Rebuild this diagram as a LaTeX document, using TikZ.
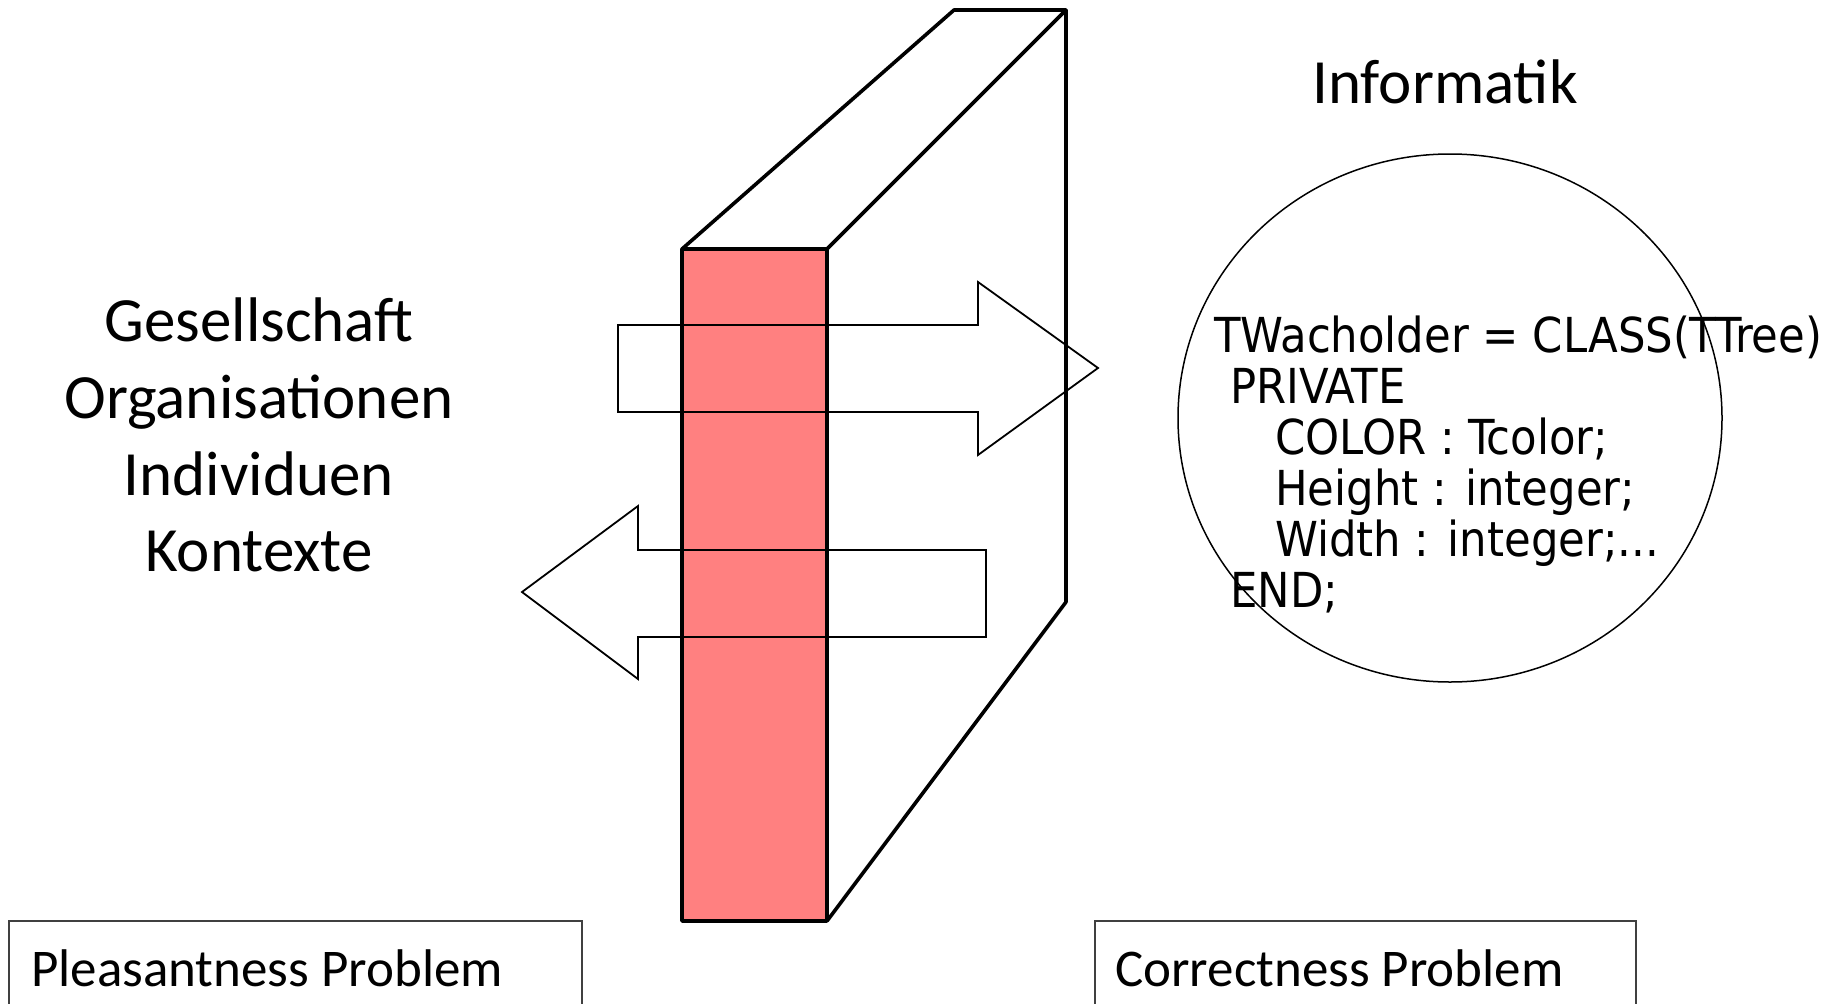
\documentclass[tikz,border=0pt]{standalone}
\usepackage{fontspec}
\setmainfont{Carlito}
\newfontfamily\codefont{DejaVu Sans Condensed}
\definecolor{wallred}{HTML}{FF8080}
\definecolor{boxgray}{HTML}{404040}
\tikzset{
  wallline/.style={line width=3.6pt, line join=round},
  arrowline/.style={line width=1.8pt, line join=miter},
  bigtext/.style={font=\fontsize{63}{76}\selectfont, inner sep=0pt, anchor=base},
  codetext/.style={font=\codefont\fontsize{48.2}{51}\selectfont, inner sep=0pt, anchor=base west},
  labeltext/.style={font=\fontsize{53}{64}\selectfont, inner sep=0pt, anchor=base west},
  probbox/.style={draw=boxgray, line width=1.4pt}
}
\begin{document}
\begin{tikzpicture}[x=1pt,y=-1pt]
\useasboundingbox (0,0) rectangle (1845,1004);
\fill[white] (0,0) rectangle (1845,1004);

% wall corners
\coordinate (ftl) at (682,249);
\coordinate (ftr) at (827,249);
\coordinate (fbl) at (682,921);
\coordinate (fbr) at (827,921);
\coordinate (btl) at (954,10);
\coordinate (btr) at (1066,10);
\coordinate (bbr) at (1066,602);

% front face
\filldraw[fill=wallred, wallline] (ftl) -- (ftr) -- (fbr) -- (fbl) -- cycle;
% top and side
\draw[wallline] (ftl) -- (btl) -- (btr) -- (ftr);
\draw[wallline] (btr) -- (bbr) -- (fbr);

% right arrow
\draw[arrowline] (618,325) -- (978,325) -- (978,282) -- (1098,368) -- (978,455) -- (978,412) -- (618,412) -- cycle;
% left arrow
\draw[arrowline] (986,550) -- (638,550) -- (638,506) -- (522,592) -- (638,679) -- (638,637) -- (986,637) -- cycle;

% circle
\draw[line width=1.5pt] (1450,418) ellipse [x radius=272, y radius=264];

% left texts
\node[bigtext] (ges) at (259,341) {Gesellschaft};
\node[bigtext] (org) at (259,418) {Organisationen};
\node[bigtext] (ind) at (259,495) {Individuen};
\node[bigtext] (kon) at (259,571) {Kontexte};

\node[bigtext] (inf) at (1445,103) {Informatik};

% code
\node[codetext] (c1) at (1214,352) {TWacholder = CLASS(TTree)};
\node[codetext] (c2) at (1230,403) {PRIVATE};
\node[codetext] (c3) at (1275,454) {COLOR : Tcolor;};
\node[codetext] (c4) at (1275,505) {Height : integer;};
\node[codetext] (c5) at (1275,556) {Width : integer;...};
\node[codetext] (c6) at (1230,607) {END;};

% bottom boxes
\draw[probbox] (9,1010) -- (9,921) -- (582,921) -- (582,1010);
\draw[probbox] (1095,1010) -- (1095,921) -- (1636,921) -- (1636,1010);
\node[labeltext] (pp) at (31,986) {Pleasantness Problem};
\node[labeltext] (cp) at (1115,986) {Correctness Problem};
\end{tikzpicture}
\end{document}
